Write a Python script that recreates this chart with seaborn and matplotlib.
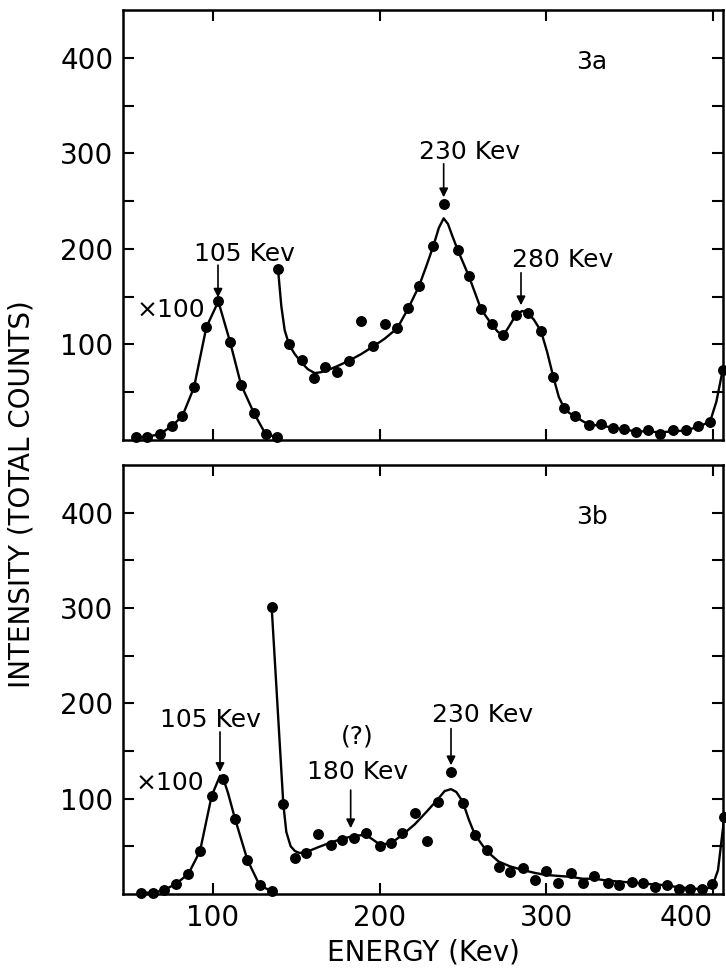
import matplotlib
matplotlib.use("Agg")
import matplotlib.pyplot as plt
import seaborn as sns

# --- values: energy (keV) and intensity (total counts) ---

# panel 3a, 105 keV peak (x100)
a_low_e = [53.6, 60.6, 68.0, 75.6, 81.6, 88.6, 96.0, 103.2, 110.2, 116.8, 124.6, 131.6, 138.6]
a_low_c = [2.8, 3.5, 6, 15, 25, 55, 118, 145, 103, 58, 28, 6, 3]

# panel 3a, measured points
a_dots_e = [139.0, 145.6, 153.6, 160.6, 167.4, 174.2, 181.6, 189.0, 196.2, 203.0,
            210.6, 217.2, 223.6, 232.2, 238.4, 246.8, 253.4, 260.8, 267.2, 274.2,
            281.8, 288.8, 296.8, 304.2, 310.8, 317.4, 325.8, 332.8, 339.8, 346.8,
            353.8, 360.8, 368.2, 375.8, 383.8, 391.2, 398.2, 405.8]
a_dots_c = [179, 100, 84, 65, 76, 71, 83, 125, 98, 121,
            117, 138, 161, 203, 247, 199, 172, 137, 121, 110,
            131, 133, 114, 66, 33, 25, 16, 17, 13, 12,
            8, 10, 6, 10, 10, 15, 19, 73]

# panel 3a, drawn curve
a_fit_e = [139, 141, 143, 145.6, 149, 153.6, 157, 161, 165, 170, 174.2, 181.6, 189,
           196.2, 203, 210.6, 217.2, 223.6, 228, 232.2, 235.5, 238.4, 241, 243.5,
           246.8, 253.4, 260.8, 267.2, 271, 274.2, 277, 281.8, 285.5, 288.8, 292.5,
           296.8, 300.5, 304.2, 307.5, 310.8, 314, 317.4, 321.5, 325.8, 332.8, 339.8,
           346.8, 353.8, 360.8, 368.2, 375.8, 383.8, 391.2, 398.2, 402, 405.8]
a_fit_c = [179, 140, 115, 100, 90, 80, 74, 70, 71, 74, 77, 83, 90,
           98, 106, 117, 138, 161, 182, 203, 222, 232, 226, 214,
           199, 172, 137, 121, 113, 110, 117, 131, 135, 133, 126,
           114, 92, 66, 45, 33, 28, 25, 20, 16, 15, 13,
           11, 9, 9, 8, 9, 10, 14, 19, 40, 73]

# panel 3b, 105 keV peak (x100)
b_low_e = [57.0, 64.0, 70.6, 78.0, 85.2, 92.2, 99.2, 106.2, 113.2, 120.6, 128.0, 135.2]
b_low_c = [1.4, 1.4, 4, 11, 21, 45, 103, 121, 79, 36, 9, 3]
b_low_fit_e = [57, 64, 70.6, 78, 85.2, 92.2, 99.2, 104.2, 106.2, 109, 113.2, 120.6, 128, 135.2]
b_low_fit_c = [1.4, 1.4, 4, 11, 21, 45, 103, 124, 121, 106, 79, 36, 9, 3]

# panel 3b, measured points
b_dots_e = [135.2, 142.2, 149.2, 156.0, 163.2, 170.6, 177.6, 184.6, 191.6, 200.0,
            206.6, 213.6, 221.0, 228.2, 235.2, 242.8, 249.8, 257.2, 264.2, 271.4,
            278.2, 286.2, 293.4, 299.8, 306.8, 314.8, 321.8, 328.8, 336.8, 343.8,
            351.2, 357.8, 365.4, 372.4, 379.4, 386.4, 393.4, 399.4, 406.8]
b_dots_c = [301, 94, 38, 43, 63, 51, 57, 59, 64, 50,
            53, 64, 85, 56, 96, 128, 95, 62, 46, 28,
            23, 27, 15, 24, 12, 22, 12, 19, 12, 9,
            13, 12, 7, 9, 5, 5, 5, 10, 81]

# panel 3b, drawn curve
b_fit_e = [135.2, 142.2, 144, 146.6, 149.2, 152, 156, 163, 170.6, 177.6, 184.6, 191.6,
           196, 200, 206.6, 213.6, 221, 228, 235.2, 239, 242.8, 246, 249.8, 253.5,
           257.2, 264.2, 271.4, 278.2, 286.2, 293.4, 299.8, 306.8, 314.8, 321.8,
           328.8, 336.8, 343.8, 351.2, 357.8, 365.4, 372.4, 379.4, 386.4, 393.4,
           399.4, 403, 406.8]
b_fit_c = [301, 94, 65, 50, 45, 43, 44, 49, 54, 58, 61, 62,
           57, 52, 53, 62, 73, 86, 100, 108, 110, 107, 97, 78,
           62, 45, 34, 29, 25, 22, 20, 19, 18, 16,
           16, 14, 13, 12, 11, 10, 9, 7, 6, 5,
           7, 25, 81]

sns.set_style("ticks")
plt.rcParams["font.family"] = ["DejaVu Sans"]
plt.rcParams.update({
    "text.color": "black",
    "axes.edgecolor": "black",
    "axes.labelcolor": "black",
    "xtick.color": "black",
    "ytick.color": "black",
})

fig = plt.figure(figsize=(7.26, 9.73), dpi=100)
ax_a = fig.add_axes([123 / 726, 1 - 440 / 973, 600 / 726, 430 / 973])
ax_b = fig.add_axes([123 / 726, 1 - 894 / 973, 600 / 726, 429 / 973])


def draw_panel(ax, low_e, low_c, low_fit_e, low_fit_c, dots_e, dots_c, fit_e, fit_c):
    line_kw = dict(color="black", linewidth=1.7, estimator=None, sort=False, ax=ax)
    sns.lineplot(x=low_fit_e, y=low_fit_c, **line_kw)
    sns.lineplot(x=fit_e, y=fit_c, **line_kw)
    sns.scatterplot(x=low_e + dots_e, y=low_c + dots_c, ax=ax, color="black",
                    s=62, linewidth=0, clip_on=False, zorder=3)

    ax.set_xlim(46, 406)
    ax.set_ylim(0, 450)
    ax.set_xticks([100, 200, 300, 400])
    ax.set_yticks([100, 200, 300, 400])
    ax.set_yticks([50, 150, 250, 350], minor=True)
    ax.tick_params(which="both", direction="in", top=True, right=True,
                   length=8, width=1.5, labelsize=20, pad=7, colors="black")
    for s in ax.spines.values():
        s.set_linewidth(1.8)
        s.set_color("black")
    ax.set_xlabel("")
    ax.set_ylabel("")


def arrow(ax, x, y_from, y_to):
    ax.annotate("", xy=(x, y_to), xytext=(x, y_from),
                arrowprops=dict(arrowstyle="-|>", color="black", lw=1.2,
                                mutation_scale=13, shrinkA=0, shrinkB=0))


draw_panel(ax_a, a_low_e, a_low_c, a_low_e, a_low_c, a_dots_e, a_dots_c, a_fit_e, a_fit_c)
draw_panel(ax_b, b_low_e, b_low_c, b_low_fit_e, b_low_fit_c, b_dots_e, b_dots_c, b_fit_e, b_fit_c)
ax_a.tick_params(labelbottom=False)

txt = dict(ha="center", va="center", fontsize=18, color="black")

# panel 3a labels
ax_a.text(327, 396, "3a", **txt)
ax_a.text(119, 195, "105 Kev", **txt)
arrow(ax_a, 103, 183, 149)
ax_a.text(74.6, 136, "×100", **txt)
ax_a.text(254, 301, "230 Kev", **txt)
arrow(ax_a, 238.4, 289, 254)
ax_a.text(309.5, 188, "280 Kev", **txt)
arrow(ax_a, 284.8, 175, 141)

# panel 3b labels
ax_b.text(327.5, 395.5, "3b", **txt)
ax_b.text(98.3, 182, "105 Kev", **txt)
arrow(ax_b, 104.2, 170, 128)
ax_b.text(74, 116, "×100", **txt)
ax_b.text(186.6, 165, "(?)", **txt)
ax_b.text(187, 128, "180 Kev", **txt)
arrow(ax_b, 182.6, 109, 69)
ax_b.text(261.8, 187.4, "230 Kev", **txt)
arrow(ax_b, 242.8, 173.5, 135)

# last x tick label sits inside the figure edge
ax_b.get_xticklabels()[-1].set_horizontalalignment("right")

fig.text(423 / 726, 1 - 953 / 973, "ENERGY (Kev)", ha="center", va="center",
         fontsize=20, color="black")
fig.text(22 / 726, 1 - 494 / 973, "INTENSITY (TOTAL COUNTS)", ha="center", va="center",
         rotation=90, fontsize=20, color="black")

fig.savefig("out.png", dpi=100, facecolor="white")
